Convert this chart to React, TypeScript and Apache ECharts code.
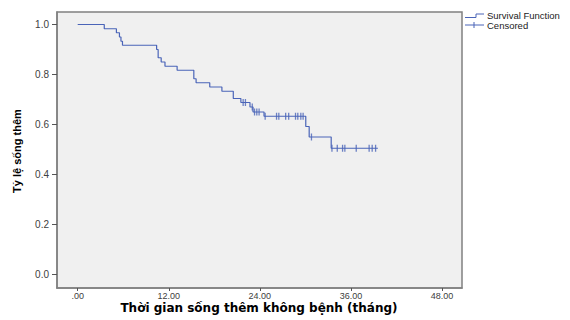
import React, { useEffect, useRef } from "react";
import * as echarts from "echarts";

// Kaplan-Meier step points: time (months) and survival after the event
const stepTimes = [0, 3.5, 5.1, 5.5, 5.7, 5.9, 10.4, 10.6, 11.0, 11.5, 13.1, 15.3, 15.6, 17.4, 19.0, 20.5, 21.5, 22.7, 23.1, 24.55, 30.05, 30.5, 33.4, 39.55];
const stepSurvival = [1.0, 0.983, 0.967, 0.95, 0.933, 0.917, 0.9, 0.867, 0.85, 0.833, 0.817, 0.783, 0.767, 0.75, 0.733, 0.704, 0.688, 0.67, 0.65, 0.633, 0.592, 0.55, 0.505, 0.505];

// censored observations
const censorTimes = [21.8, 22.1, 23.0, 23.3, 23.6, 23.9, 24.7, 26.2, 26.5, 27.4, 27.8, 28.7, 29.0, 29.4, 29.7, 30.8, 33.5, 34.2, 34.9, 35.2, 36.7, 38.4, 38.8, 39.25];
const censorSurvival = [0.688, 0.688, 0.67, 0.65, 0.65, 0.65, 0.633, 0.633, 0.633, 0.633, 0.633, 0.633, 0.633, 0.633, 0.633, 0.55, 0.505, 0.505, 0.505, 0.505, 0.505, 0.505, 0.505, 0.505];

const xTicks = [0, 12, 24, 36, 48];
const yTicks = [0, 0.2, 0.4, 0.6, 0.8, 1.0];
// axis extents (frame is wider than the tick range)
const xRange = [-2.727, 50.635];
const yRange = [-0.054, 1.05];

const xTitle = "Thời gian sống thêm không bệnh (tháng)";
const yTitle = "Tỷ lệ sống thêm";
const legendNames = ["Survival Function", "Censored"];

const LINE = "#4a64b8";
const FONT = "'Liberation Sans', Arial, sans-serif";

export default function App() {
  const ref = useRef<HTMLDivElement>(null);
  useEffect(() => {
    if (!ref.current) return;
    const chart = echarts.init(ref.current, undefined, { renderer: "svg" });
    const stepData = stepTimes.map((t, i) => [t, stepSurvival[i]]);
    const censorData = censorTimes.map((t, i) => [t, censorSurvival[i]]);
    chart.setOption({
      animation: false,
      backgroundColor: "#ffffff",
      grid: {
        left: 57,
        right: 108,
        top: 12,
        bottom: 32,
        show: true,
        backgroundColor: "#f0f0f0",
        borderColor: "#808080",
        borderWidth: 1.5,
      },
      xAxis: {
        type: "value",
        min: xRange[0],
        max: xRange[1],
        axisLine: { show: true, onZero: false, lineStyle: { color: "#808080", width: 1.5 } },
        axisTick: { show: true, length: 3, customValues: xTicks, lineStyle: { color: "#555", width: 1 } },
        splitLine: { show: false },
        axisLabel: {
          customValues: xTicks,
          margin: 3,
          fontSize: 9,
          color: "#404040",
          fontFamily: FONT,
          formatter: (v: number) => (v === 0 ? ".00" : v.toFixed(2)),
        },
      },
      yAxis: {
        type: "value",
        min: yRange[0],
        max: yRange[1],
        axisLine: { show: true, onZero: false, lineStyle: { color: "#808080", width: 1.5 } },
        axisTick: { show: true, length: 5, customValues: yTicks, lineStyle: { color: "#555", width: 1 } },
        splitLine: { show: false },
        axisLabel: {
          customValues: yTicks,
          margin: 8,
          fontSize: 10,
          color: "#404040",
          fontFamily: FONT,
          formatter: (v: number) => v.toFixed(1),
        },
      },
      graphic: [
        {
          type: "text",
          x: 17,
          y: 151,
          rotation: Math.PI / 2,
          style: {
            text: yTitle,
            fontSize: 11,
            fontWeight: "bold",
            fontFamily: "'Liberation Sans Narrow', 'Arial Narrow', " + FONT,
            fill: "#000",
            align: "center",
            verticalAlign: "middle",
          },
        },
        {
          type: "text",
          x: 259,
          y: 308,
          style: {
            text: xTitle,
            fontSize: 12,
            fontWeight: "bold",
            fontFamily: "'DejaVu Sans', Verdana, sans-serif",
            fill: "#000",
            align: "center",
            verticalAlign: "middle",
          },
        },
        {
          type: "polyline",
          shape: { points: [[465, 17.5], [476, 17.5], [476, 14], [484, 14]] },
          style: { stroke: LINE, lineWidth: 1, fill: null },
        },
        {
          type: "text",
          x: 487,
          y: 15.7,
          style: { text: legendNames[0], fontSize: 9.5, fontFamily: FONT, fill: "#222", verticalAlign: "middle" },
        },
        {
          type: "line",
          shape: { x1: 465, y1: 25, x2: 484, y2: 25 },
          style: { stroke: LINE, lineWidth: 1 },
        },
        {
          type: "line",
          shape: { x1: 474, y1: 22, x2: 474, y2: 28 },
          style: { stroke: LINE, lineWidth: 1 },
        },
        {
          type: "text",
          x: 487,
          y: 25.3,
          style: { text: legendNames[1], fontSize: 9.5, fontFamily: FONT, fill: "#222", verticalAlign: "middle" },
        },
      ],
      series: [
        {
          name: legendNames[0],
          type: "line",
          step: "end",
          data: stepData,
          showSymbol: false,
          symbol: "none",
          lineStyle: { color: LINE, width: 1.2 },
          z: 3,
        },
        {
          name: legendNames[1],
          type: "scatter",
          data: censorData,
          symbol: "rect",
          symbolSize: [1.3, 7],
          itemStyle: { color: LINE },
          z: 4,
        },
      ],
    });
    return () => chart.dispose();
  }, []);
  return <div ref={ref} style={{ width: 570, height: 320, position: "absolute", left: 0, top: 0 }} />;
}
